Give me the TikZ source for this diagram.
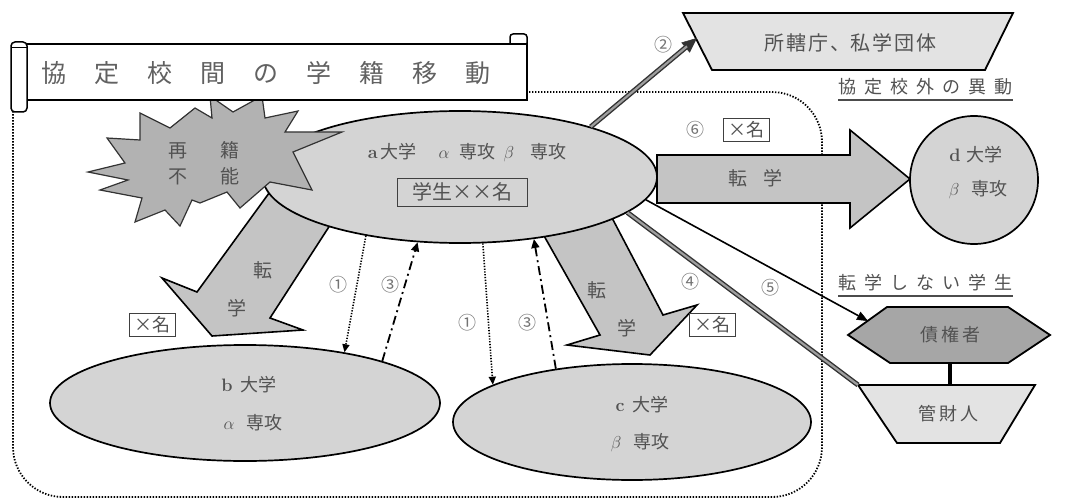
\documentclass[tikz,border=0pt]{standalone}
\usepackage{fontspec}
\newfontfamily\jp{Noto Sans CJK JP}
\usetikzlibrary{arrows.meta,shapes.geometric}
\newcommand\fsz[1]{\fontsize{#1}{#1}\selectfont}
\tikzset{
 txt/.style={text=black!68, font=\jp, inner sep=0pt},
 ell/.style={ellipse, draw=black, line width=1.7pt, fill=black!17, inner sep=0pt},
 blk/.style={draw=black, line width=1.6pt, fill=black!23, line join=miter},
 numlab/.style={text=black!55, font=\jp\fsz{18}, inner sep=0pt},
 cntbox/.style={draw=black!75, line width=1pt, fill=white, font=\jp\fsz{18}, text=black!68, inner xsep=5pt, inner ysep=3pt},
 dotarrow/.style={line width=1.6pt, dash pattern=on 1.3pt off 1.5pt, -{Triangle[length=8pt,width=7pt]}},
 dasharrow/.style={line width=1.8pt, dash pattern=on 9pt off 4pt on 2pt off 4pt, -{Triangle[length=9pt,width=8pt]}},
 dbl/.style={line width=5pt, draw=black!80, postaction={draw=black!38, line width=2.2pt}},
 dblarrow/.style={line width=5pt, draw=black!80, -{Triangle[length=15pt,width=13pt,line width=0.5pt]}, postaction={draw=black!38, line width=2.2pt, -, shorten >=13pt}},
 thinarrow/.style={line width=1.6pt, -{Triangle[length=11pt,width=9pt,line width=0.5pt]}},
 shapeline/.style={line width=1.8pt, draw=black, line join=miter},
}
\begin{document}
\begin{tikzpicture}[x=1pt,y=-1pt]
\useasboundingbox (0,0) rectangle (1065,500);
\fill[white] (0,0) rectangle (1065,500);
% dotted frame
\draw[line width=1.8pt, dash pattern=on 1.4pt off 1.6pt, rounded corners=50pt] (400,92) -- (822,92) -- (822,497) -- (13,497) -- (13,95);
% block arrows
\draw[blk] (280,178) -- (197,292) -- (162,278) -- (212,336) -- (303,330) -- (270,318) -- (345,202) -- cycle;
\draw[blk] (530,211) -- (600,335) -- (567,345) -- (650,355) -- (697,305) -- (663,315) -- (600,195) -- cycle;
\draw[blk] (657,155) -- (850,155) -- (850,130) -- (910,179) -- (850,228) -- (850,203) -- (657,203) -- cycle;
\node[txt] (t1) at (263,270) {\fsz{19}転};
\node[txt] (t2) at (237,308) {\fsz{19}学};
\node[txt] (t3) at (597,290) {\fsz{19}転};
\node[txt] (t4) at (627,328) {\fsz{19}学};
\node[txt] (t5) at (755,178) {\fsz{19}転\hspace{16pt}学};
% ellipses
\node[ell, minimum width=394pt, minimum height=132pt] (a) at (460,177) {};
\node[ell, minimum width=390pt, minimum height=116pt] (b) at (245,403) {};
\node[ell, minimum width=358pt, minimum height=116pt] (c) at (632,422) {};
\node[circle, draw=black, line width=1.7pt, fill=black!17, minimum size=128pt, inner sep=0pt] (d) at (974,180) {};
\node[txt] (a1) at (467,153) {\fsz{18}{\normalfont\bfseries a}\,大学\hspace{22pt}$\alpha$\hspace{10pt}専攻\hspace{8pt}$\beta$\hspace{16pt}専攻};
\node[txt, draw=black!75, line width=1pt, minimum width=130pt, minimum height=28pt] (a2) at (462,192) {\fsz{20}学生××名};
\node[txt] (b1) at (249,385) {\fsz{18}{\normalfont\bfseries b}\hspace{8pt}大学};
\node[txt] (b2) at (253,423) {\fsz{18}$\alpha$\hspace{12pt}専攻};
\node[txt] (c1) at (642,405) {\fsz{18}{\normalfont\bfseries c}\hspace{8pt}大学};
\node[txt] (c2) at (640,443) {\fsz{18}$\beta$\hspace{12pt}専攻};
\node[txt] (d1) at (976,155) {\fsz{18}{\normalfont\bfseries d}\hspace{6pt}大学};
\node[txt] (d2) at (978,190) {\fsz{18}$\beta$\hspace{12pt}専攻};
% starburst
\draw[line width=1.2pt, draw=black!80, fill=black!30, line join=miter]
 (88,172) -- (125,163) -- (107,138) -- (140,140) -- (140,113) -- (170,128) -- (195,108) -- (212,118) -- (210,96) -- (233,112) -- (262,96) -- (265,118) -- (298,111) -- (285,132) -- (342,132) -- (293,152) -- (312,190) -- (270,182) -- (240,208) -- (227,192) -- (200,203) -- (192,200) -- (180,226) -- (165,210) -- (135,222) -- (142,198) -- (100,190) -- (128,180) -- cycle;
\node[txt, align=center] (st) at (204,163) {\fsz{19}再\hspace{34pt}籍\\[8pt]\fsz{19}不\hspace{34pt}能};
% title scroll
\draw[line width=1.5pt, fill=white, rounded corners=3pt] (510,34) rectangle (527,46);
\draw[line width=2pt, fill=white] (25,44) rectangle (527,100);
\draw[line width=1.5pt, fill=white, rounded corners=4pt] (11,42) rectangle (27,112);
\draw[line width=1pt] (11,48) -- (27,48);
\node[txt, text=black!62] (title) at (266,73) {\fsz{25}協\hspace{28pt}定\hspace{28pt}校\hspace{28pt}間\hspace{28pt}の\hspace{28pt}学\hspace{28pt}籍\hspace{28pt}移\hspace{28pt}動};
% top right box
\draw[shapeline, fill=black!11] (683,13) -- (1013,13) -- (985,70) -- (712,70) -- cycle;
\node[txt] (sk) at (850,43) {\fsz{20}所\hspace{2pt}轄\hspace{2pt}庁\hspace{2pt}、私\hspace{2pt}学\hspace{2pt}団\hspace{2pt}体};
\coordinate (skin) at (697,38);
\node[txt, anchor=west] (out) at (838,87) {\fsz{18}協\hspace{8pt}定\hspace{8pt}校\hspace{8pt}外\hspace{8pt}の\hspace{8pt}異\hspace{8pt}動};
\draw[line width=1.2pt, draw=black!70] (838,100) -- (1013,100);
\node[txt, anchor=west] (nt) at (838,283) {\fsz{18}転\hspace{8pt}学\hspace{8pt}し\hspace{8pt}な\hspace{8pt}い\hspace{8pt}学\hspace{8pt}生};
\draw[line width=1.2pt, draw=black!70] (838,296) -- (1013,296);
% hexagon and trapezoid
\draw[shapeline, fill=black!35] (848,335) -- (887,307) -- (1008,307) -- (1050,335) -- (1008,363) -- (890,363) -- cycle;
\node[txt] (hx) at (950,335) {\fsz{18}債\hspace{3pt}権\hspace{3pt}者};
\coordinate (hxin) at (868,321);
\coordinate (hxb) at (950,363);
\draw[shapeline, fill=black!11] (858,385) -- (1035,385) -- (1000,443) -- (897,443) -- cycle;
\node[txt] (kz) at (948,414) {\fsz{18}管\hspace{3pt}財\hspace{3pt}人};
\coordinate (kzt) at (950,385);
\coordinate (kzl) at (858,385);
\draw[line width=4.5pt] (hxb) -- (kzt);
% connectors
\draw[dblarrow] (a.21) -- (skin);
\draw[dbl] (a.-12) -- (kzl);
\draw[thinarrow] (a.-7) -- (hxin);
\draw[dotarrow] (a.212) -- (b.27);
\draw[dasharrow] (b.17) -- (a.237);
\draw[dotarrow] (a.289) -- (c.165);
\draw[dasharrow] (c.145) -- (a.320);
% labels
\node[numlab] (n2) at (663,45) {②};
\node[numlab] (n6) at (695,130) {⑥};
\node[numlab] (n4) at (690,282) {④};
\node[numlab] (n5) at (770,288) {⑤};
\node[numlab] (n1a) at (338,285) {①};
\node[numlab] (n3a) at (390,285) {③};
\node[numlab] (n1b) at (467,323) {①};
\node[numlab] (n3b) at (527,323) {③};
\node[cntbox] (x1) at (152,325) {×名};
\node[cntbox] (x2) at (712,325) {×名};
\node[cntbox] (x3) at (746,130) {×名};
\end{tikzpicture}
\end{document}
